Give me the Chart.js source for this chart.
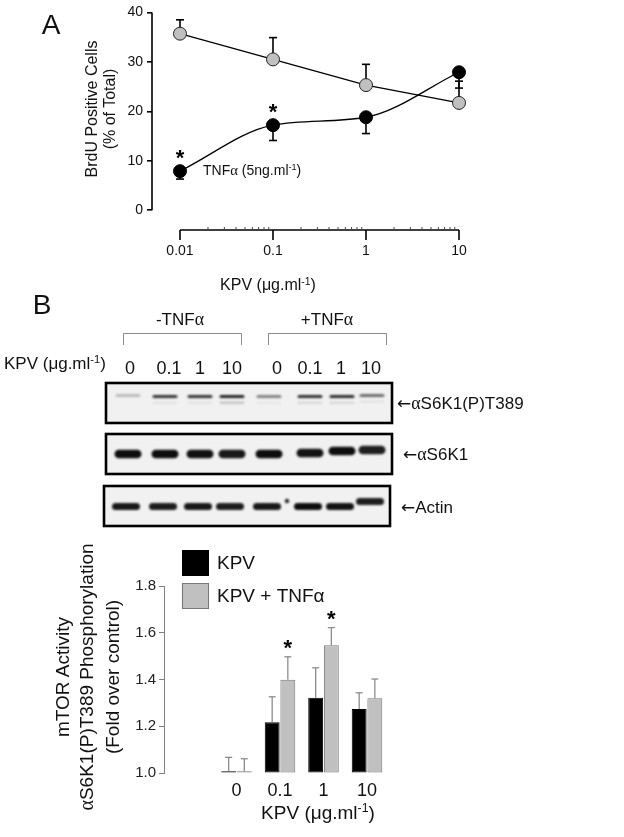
<!doctype html>
<html>
<head>
<meta charset="UTF-8">
<title>KPV</title>
<script src="https://cdn.jsdelivr.net/npm/chart.js@4.4.1/dist/chart.umd.min.js"></script>
<style>
    body { margin: 0; background: #fff; }
    #fig { position: relative; width: 624px; height: 837px; overflow: hidden; font-family: "Liberation Sans", Arial, sans-serif; color: #111; }
    #fig canvas { position: absolute; left: 0; }
    .t { position: absolute; white-space: nowrap; line-height: 1; }
    .t sup { font-size: .65em; vertical-align: .5em; line-height: 0; }
    .a { font-family: "Liberation Serif", serif; font-size: 1.05em; }
    .s { font-family: "DejaVu Sans", sans-serif; }
</style>
</head>
<body>
<div id="fig">
    <canvas id="chartA" width="624" height="300" style="top:0"></canvas>
    <canvas id="blots" width="624" height="230" style="top:300px"></canvas>
    <canvas id="chartB" width="624" height="307" style="top:530px"></canvas>
</div>
<script>

    // panel A : BrdU positive cells
    var dosesA = [0.01, 0.1, 1, 10];
    var ticksA = [0, 10, 20, 30, 40];
    var brduCtrl = [35.7, 30.5, 25.3, 21.7];
    var brduCtrlErr = [2.8, 4.4, 4.2, 4.4];
    var brduTnf = [7.9, 17.2, 18.8, 27.9];
    var brduTnfErr = [1.6, 3.1, 3.3, 3.2];
    var brduTnfSig = [true, true, false, false];

    // blots (band darkness 0..1)
    var lanes = ['0', '0.1', '1', '10', '0', '0.1', '1', '10'];
    var bandPhospho = [0.22, 0.78, 0.78, 0.85, 0.45, 0.8, 0.82, 0.55];
    var bandPhosphoLow = [0, 0.06, 0.06, 0.18, 0.04, 0.1, 0.1, 0.06];
    var bandTotal = [0.95, 0.95, 0.93, 0.9, 0.95, 0.92, 0.95, 0.88];
    var bandActin = [0.9, 0.88, 0.9, 0.88, 0.9, 0.95, 0.92, 0.88];

    // panel B : mTOR activity
    var dosesB = ['0', '0.1', '1', '10'];
    var ticksB = [1.0, 1.2, 1.4, 1.6, 1.8];
    var mtorKpv = [1.008, 1.217, 1.322, 1.274];
    var mtorKpvErr = [0.059, 0.109, 0.128, 0.069];
    var mtorTnf = [1.008, 1.399, 1.546, 1.320];
    var mtorTnfErr = [0.053, 0.098, 0.076, 0.082];
    var mtorTnfSig = [false, true, true, false];

    Chart.defaults.font.family = '"Liberation Sans", Arial, sans-serif';

    var fig = document.getElementById('fig');

    function texto(html, x, y, size, anchor, rot) {
        var d = document.createElement('div');
        d.className = 't';
        d.innerHTML = html;
        d.style.left = x + 'px';
        d.style.top = y + 'px';
        d.style.fontSize = size + 'px';
        d.style.transform = 'translate(' + (anchor == 'l' ? '0' : '-50%') + ',-50%)' + (rot ? ' rotate(-90deg)' : '');
        fig.appendChild(d);
    }

    function linha(ctx, x1, y1, x2, y2) {
        ctx.beginPath();
        ctx.moveTo(x1, y1);
        ctx.lineTo(x2, y2);
        ctx.stroke();
    }

    function estrela(ctx, x, yc) {
        ctx.save();
        ctx.fillStyle = '#000';
        ctx.font = 'bold 22px "Liberation Sans", Arial';
        ctx.textAlign = 'center';
        ctx.textBaseline = 'alphabetic';
        ctx.fillText('*', x, yc + 12);
        ctx.restore();
    }

    // ---------- panel A ----------
    var errosA = [brduCtrlErr, brduTnfErr];
    var sentidoA = [1, -1];

    var errBarsA = {
        id: 'errBarsA',
        beforeDatasetsDraw: function (chart) {
            var ctx = chart.ctx, y = chart.scales.y;
            ctx.save();
            ctx.strokeStyle = '#000';
            ctx.lineWidth = 1.6;
            chart.data.datasets.forEach(function (ds, i) {
                chart.getDatasetMeta(i).data.forEach(function (pt, j) {
                    var y2 = y.getPixelForValue(ds.data[j].y + sentidoA[i] * errosA[i][j]);
                    linha(ctx, pt.x, pt.y, pt.x, y2);
                    linha(ctx, pt.x - 4, y2, pt.x + 4, y2);
                });
            });
            ctx.restore();
        },
        afterDatasetsDraw: function (chart) {
            var meta = chart.getDatasetMeta(1);
            meta.data.forEach(function (pt, j) {
                if (brduTnfSig[j]) estrela(chart.ctx, pt.x, pt.y - 18);
            });
        }
    };

    var eixosA = {
        id: 'eixosA',
        afterDraw: function (chart) {
            var ctx = chart.ctx, x = chart.scales.x, y = chart.scales.y, a = chart.chartArea;
            ctx.save();
            ctx.strokeStyle = '#000';
            ctx.lineWidth = 1.6;
            linha(ctx, a.left, y.getPixelForValue(ticksA[0]), a.left, y.getPixelForValue(ticksA[ticksA.length - 1]));
            var yb = a.bottom;
            linha(ctx, x.getPixelForValue(dosesA[0]), yb, x.getPixelForValue(dosesA[dosesA.length - 1]), yb);
            dosesA.forEach(function (d) {
                var px = x.getPixelForValue(d);
                linha(ctx, px, yb, px, yb + 10);
            });
            ctx.lineWidth = 1;
            ctx.strokeStyle = '#444';
            dosesA.slice(0, 3).forEach(function (d) {
                for (var k = 2; k < 10; k++) {
                    var px = x.getPixelForValue(d * k);
                    linha(ctx, px, yb, px, yb - 3);
                }
            });
            ctx.restore();
        }
    };

    new Chart(document.getElementById('chartA'), {
        type: 'line',
        data: {
            datasets: [
                {
                    label: 'Controle',
                    data: dosesA.map(function (d, i) { return { x: d, y: brduCtrl[i] }; }),
                    borderColor: '#000', borderWidth: 1.3, tension: 0, clip: false,
                    pointRadius: 6.5, pointBackgroundColor: '#c0c0c0', pointBorderColor: '#222', pointBorderWidth: 1
                },
                {
                    label: 'TNFα',
                    data: dosesA.map(function (d, i) { return { x: d, y: brduTnf[i] }; }),
                    borderColor: '#000', borderWidth: 1.3, cubicInterpolationMode: 'monotone', clip: false,
                    pointRadius: 6.5, pointBackgroundColor: '#000', pointBorderColor: '#000', pointBorderWidth: 1
                }
            ]
        },
        options: {
            responsive: false,
            animation: false,
            layout: { padding: { top: 10, right: 165, bottom: 0, left: 0 } },
            plugins: { legend: { display: false }, tooltip: { enabled: false } },
            scales: {
                x: {
                    type: 'logarithmic', min: 0.005, max: 10,
                    afterBuildTicks: function (s) { s.ticks = dosesA.map(function (v) { return { value: v }; }); },
                    afterFit: function (s) { s.height = 70; },
                    grid: { display: false, drawTicks: false },
                    border: { display: false },
                    ticks: {
                        callback: function (v) { return String(v); },
                        padding: 13, color: '#111', font: { size: 14 }, autoSkip: false, maxRotation: 0
                    }
                },
                y: {
                    min: -4, max: 40,
                    afterBuildTicks: function (s) { s.ticks = ticksA.map(function (v) { return { value: v }; }); },
                    afterFit: function (s) { s.width = 152; },
                    grid: { drawOnChartArea: false, tickLength: 5, color: '#000', lineWidth: 1.6 },
                    border: { display: false },
                    ticks: { padding: 4, color: '#111', font: { size: 14 } }
                }
            }
        },
        plugins: [errBarsA, eixosA]
    });

    // ---------- blots ----------
    var laneX = [128, 165, 200, 232, 269, 310, 342, 372];
    var laneLabelX = [130, 169, 200, 232, 277, 310, 341, 371];

    function desenhaBlots() {
        var ctx = document.getElementById('blots').getContext('2d');
        ctx.translate(0, -300);

        ctx.strokeStyle = '#8a8a8a';
        ctx.lineWidth = 1;
        [[123, 241], [268, 386]].forEach(function (b) {
            ctx.beginPath();
            ctx.moveTo(b[0] + .5, 345);
            ctx.lineTo(b[0] + .5, 333.5);
            ctx.lineTo(b[1] + .5, 333.5);
            ctx.lineTo(b[1] + .5, 345);
            ctx.stroke();
        });

        var paineis = [
            { x: 106, y: 383, w: 286, h: 40, bandas: bandPhospho, by: 13.5, bh: 3.2, bw: 25, shift: [-1, 0, 0, 0, 0, 0, 0, -1] },
            { x: 106, y: 434, w: 286, h: 40, bandas: bandTotal, by: 20, bh: 8.5, bw: 27, shift: [0, 0, 0, 0, 0, -1, -3, -4] },
            { x: 104, y: 486, w: 286, h: 40, bandas: bandActin, by: 20.5, bh: 7, bw: 28, shift: [0, 0, 0, 0, 0, 0, 0, -5] }
        ];

        paineis.forEach(function (p, k) {
            ctx.fillStyle = '#f1f1f1';
            ctx.fillRect(p.x, p.y, p.w, p.h);
            ctx.filter = 'blur(1px)';
            p.bandas.forEach(function (a, i) {
                var cx = laneX[i] + (k == 2 ? -2 : 0);
                var cy = p.y + p.by + p.shift[i];
                ctx.fillStyle = 'rgba(0,0,0,' + a + ')';
                ctx.beginPath();
                ctx.roundRect(cx - p.bw / 2, cy - p.bh / 2, p.bw, p.bh, p.bh / 2);
                ctx.fill();
                if (k == 0 && bandPhosphoLow[i] > 0) {
                    ctx.fillStyle = 'rgba(0,0,0,' + bandPhosphoLow[i] + ')';
                    ctx.beginPath();
                    ctx.roundRect(cx - p.bw / 2, cy + 5, p.bw, 2.5, 1.2);
                    ctx.fill();
                }
            });
            if (k == 2) {
                ctx.fillStyle = 'rgba(0,0,0,0.85)';
                ctx.beginPath();
                ctx.arc(287, 501, 2.2, 0, Math.PI * 2);
                ctx.fill();
            }
            ctx.filter = 'none';
            ctx.strokeStyle = '#000';
            ctx.lineWidth = 2.6;
            ctx.strokeRect(p.x, p.y, p.w, p.h);
        });
    }
    desenhaBlots();

    // ---------- panel B ----------
    var errosB = [mtorKpvErr, mtorTnfErr];
    var valoresB = [mtorKpv, mtorTnf];

    var errBarsB = {
        id: 'errBarsB',
        afterDatasetsDraw: function (chart) {
            var ctx = chart.ctx, y = chart.scales.y;
            ctx.save();
            ctx.strokeStyle = '#8c8c8c';
            ctx.lineWidth = 1.3;
            chart.data.datasets.forEach(function (ds, i) {
                chart.getDatasetMeta(i).data.forEach(function (el, j) {
                    var y2 = y.getPixelForValue(valoresB[i][j] + errosB[i][j]);
                    linha(ctx, el.x, el.y, el.x, y2);
                    linha(ctx, el.x - 3.5, y2, el.x + 3.5, y2);
                    if (i == 1 && mtorTnfSig[j]) estrela(ctx, el.x, y2 - 14);
                });
            });
            ctx.restore();
        }
    };

    var legendaB = {
        id: 'legendaB',
        afterDraw: function (chart) {
            var ctx = chart.ctx;
            ctx.save();
            chart.data.datasets.forEach(function (ds, i) {
                var top = 20 + i * 33;
                ctx.fillStyle = ds.backgroundColor;
                ctx.fillRect(182, top, 27, 26);
                ctx.strokeStyle = ds.borderColor;
                ctx.lineWidth = 1;
                ctx.strokeRect(182.5, top + .5, 26, 25);
                ctx.fillStyle = '#111';
                ctx.font = '19px "Liberation Sans", Arial';
                ctx.textBaseline = 'middle';
                ctx.fillText(ds.label, 217, top + 14);
            });
            ctx.restore();
        }
    };

    new Chart(document.getElementById('chartB'), {
        type: 'bar',
        data: {
            datasets: [
                {
                    label: 'KPV',
                    data: dosesB.map(function (d, i) { return { x: i, y: mtorKpv[i] }; }),
                    backgroundColor: '#000', borderColor: '#000', borderWidth: 1, borderSkipped: false,
                    base: 1, clip: false, categoryPercentage: 0.72, barPercentage: 0.95
                },
                {
                    label: 'KPV + TNFα',
                    data: dosesB.map(function (d, i) { return { x: i, y: mtorTnf[i] }; }),
                    backgroundColor: '#c0c0c0', borderColor: '#777', borderWidth: 1, borderSkipped: false,
                    base: 1, clip: false, categoryPercentage: 0.72, barPercentage: 0.95
                }
            ]
        },
        options: {
            responsive: false,
            animation: false,
            layout: { padding: { top: 56, right: 228, bottom: 0, left: 0 } },
            plugins: { legend: { display: false }, tooltip: { enabled: false } },
            scales: {
                x: {
                    type: 'linear', min: -1, max: 3,
                    afterBuildTicks: function (s) { s.ticks = dosesB.map(function (d, i) { return { value: i }; }); },
                    afterFit: function (s) { s.height = 64; },
                    grid: { display: false, drawTicks: false },
                    border: { display: false },
                    ticks: {
                        callback: function (v) { return dosesB[v]; },
                        padding: 7, color: '#111', font: { size: 18 }, autoSkip: false, maxRotation: 0
                    }
                },
                y: {
                    min: 1, max: 1.8,
                    afterBuildTicks: function (s) { s.ticks = ticksB.map(function (v) { return { value: v }; }); },
                    afterFit: function (s) { s.width = 164; },
                    grid: { drawOnChartArea: false, tickLength: 5, color: '#808080' },
                    border: { color: '#808080' },
                    ticks: {
                        callback: function (v) { return v.toFixed(1); },
                        padding: 3, color: '#222', font: { size: 15 }
                    }
                }
            }
        },
        plugins: [errBarsB, legendaB]
    });

    // ---------- textos ----------
    var alfa = '<span class="a">&alpha;</span>';
    var seta = '<span class="s">&larr;</span>';

    texto('A', 51, 25, 28, 'c');
    texto('BrdU Positive Cells', 92, 109, 16, 'c', true);
    texto('(% of Total)', 110, 109, 16, 'c', true);
    texto('TNF' + alfa + ' (5ng.ml<sup>-1</sup>)', 203, 170, 14, 'l');
    texto('KPV (&mu;g.ml<sup>-1</sup>)', 268, 285, 16, 'c');

    texto('B', 42, 305, 28, 'c');
    texto('-TNF' + alfa, 180, 320, 17, 'c');
    texto('+TNF' + alfa, 327, 320, 17, 'c');
    texto('KPV (&mu;g.ml<sup>-1</sup>)', 4, 363, 17, 'l');
    lanes.forEach(function (l, i) { texto(l, laneLabelX[i], 368, 18, 'c'); });
    texto(seta + alfa + 'S6K1(P)T389', 397, 404, 17, 'l');
    texto(seta + alfa + 'S6K1', 403, 455, 17, 'l');
    texto(seta + 'Actin', 401, 507, 17, 'l');

    texto('mTOR Activity', 62, 677, 19, 'c', true);
    texto(alfa + 'S6K1(P)T389 Phosphorylation', 87, 677, 19, 'c', true);
    texto('(Fold over control)', 112, 677, 19, 'c', true);
    texto('KPV (&mu;g.ml<sup>-1</sup>)', 318, 812, 19, 'c');
</script>
</body>
</html>
